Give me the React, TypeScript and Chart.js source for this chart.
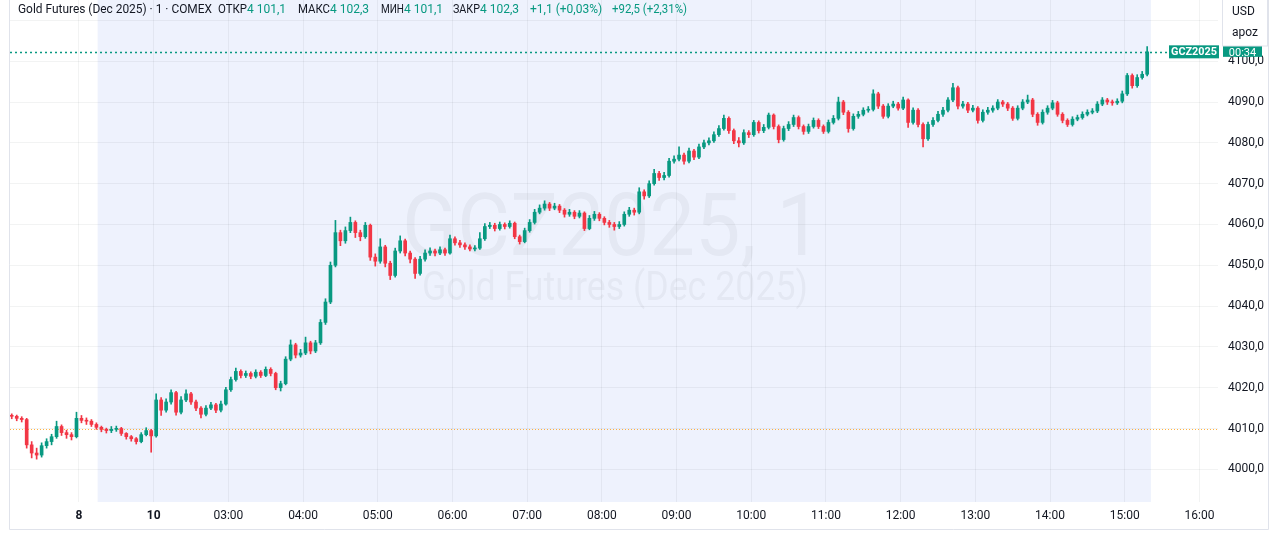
import React, { useEffect, useRef } from 'react';
import { Chart, registerables } from 'chart.js';

Chart.register(...registerables);

// ---- data (1 candle = 4 minutes; x in minutes relative to the "8" tick) ----
const TIME_START = -54;
const TIME_STEP = 4;
const FIRST_OPEN = 4013.2;

const CLOSE = [
  4013.0, 4012.5, 4012.2, 4006.0, 4004.0, 4003.5, 4005.8, 4006.8, 4008.0, 4010.5,
  4009.0, 4008.5, 4008.0, 4012.5, 4012.0, 4011.8, 4011.0, 4010.3, 4009.8, 4009.5,
  4009.8, 4010.0, 4008.8, 4008.0, 4007.5, 4006.8, 4008.5, 4009.5, 4008.2, 4017.0,
  4014.5, 4016.5, 4018.8, 4014.0, 4017.0, 4018.5, 4016.5, 4015.0, 4013.5, 4015.0,
  4015.8, 4014.5, 4016.0, 4019.5, 4022.0, 4024.0, 4023.0, 4023.5, 4022.8, 4023.8,
  4023.0, 4024.5, 4023.5, 4020.0, 4021.0, 4027.0, 4030.5, 4028.0, 4028.5, 4031.0,
  4029.0, 4031.0, 4036.0, 4041.0, 4050.0, 4058.0, 4056.0, 4058.5, 4060.5, 4058.0,
  4057.0, 4059.8, 4052.0, 4051.0, 4054.5, 4050.5, 4047.5, 4053.5, 4056.0, 4053.0,
  4051.5, 4048.0, 4051.5, 4053.0, 4053.5, 4053.0, 4053.8, 4053.0, 4056.5, 4055.5,
  4055.0, 4054.5, 4054.0, 4054.2, 4056.5, 4059.5, 4059.8, 4059.0, 4060.0, 4059.5,
  4060.3, 4057.0, 4055.8, 4058.5, 4060.5, 4063.0, 4064.0, 4065.0, 4064.0, 4064.5,
  4063.5, 4062.5, 4063.0, 4062.0, 4062.8, 4059.0, 4061.5, 4062.5, 4061.5, 4060.5,
  4060.0, 4059.5, 4060.0, 4062.5, 4063.5, 4063.0, 4068.0, 4067.0, 4070.0, 4072.5,
  4071.5, 4072.0, 4075.5, 4076.0, 4077.0, 4075.5, 4078.0, 4076.5, 4079.0, 4080.0,
  4080.5, 4082.0, 4083.5, 4086.0, 4083.0, 4080.5, 4080.0, 4082.5, 4082.0, 4085.0,
  4083.0, 4083.8, 4086.8, 4084.0, 4080.8, 4083.5, 4084.5, 4086.2, 4084.0, 4082.8,
  4084.0, 4085.5, 4084.0, 4082.8, 4085.0, 4086.0, 4090.0, 4087.5, 4083.5, 4086.5,
  4087.0, 4088.0, 4088.2, 4092.0, 4089.0, 4086.5, 4089.0, 4089.5, 4088.5, 4090.5,
  4085.0, 4088.0, 4084.5, 4081.0, 4084.5, 4085.5, 4087.0, 4088.0, 4090.5, 4093.5,
  4089.0, 4089.5, 4088.0, 4088.5, 4085.5, 4087.5, 4088.0, 4088.5, 4090.0, 4089.5,
  4088.5, 4086.0, 4088.5, 4090.0, 4090.5, 4087.0, 4085.0, 4087.5, 4088.5, 4089.8,
  4087.0, 4085.5, 4084.5, 4085.8, 4086.2, 4087.0, 4087.5, 4087.8, 4089.5, 4090.5,
  4090.0, 4089.8, 4090.2, 4092.0, 4096.5, 4094.0, 4096.0, 4096.8, 4102.3,
];

const HIGH = [
  4013.6, 4013.3, 4012.9, 4012.5, 4006.8, 4005.2, 4006.5, 4007.5, 4008.6, 4011.8,
  4010.9, 4009.6, 4009.0, 4014.0, 4013.2, 4012.6, 4012.2, 4011.4, 4010.6, 4010.1,
  4010.5, 4010.6, 4010.3, 4009.0, 4008.3, 4007.8, 4009.0, 4010.2, 4009.8, 4018.5,
  4017.6, 4017.3, 4019.5, 4019.1, 4017.8, 4019.5, 4018.9, 4017.0, 4015.4, 4015.6,
  4016.4, 4016.2, 4016.7, 4020.1, 4022.6, 4024.8, 4024.4, 4024.1, 4023.9, 4024.4,
  4024.2, 4025.1, 4024.9, 4023.8, 4021.6, 4027.6, 4031.7, 4030.9, 4029.4, 4032.4,
  4031.4, 4031.6, 4036.7, 4041.8, 4050.8, 4061.0, 4058.6, 4059.4, 4061.8, 4060.9,
  4058.6, 4060.5, 4060.1, 4052.8, 4056.5, 4054.9, 4051.0, 4054.2, 4057.2, 4056.4,
  4053.5, 4051.9, 4052.2, 4053.8, 4054.3, 4054.0, 4054.5, 4054.2, 4057.4, 4057.0,
  4056.1, 4055.5, 4055.0, 4054.8, 4058.0, 4060.2, 4060.5, 4060.3, 4060.6, 4060.4,
  4060.9, 4060.6, 4057.4, 4059.1, 4061.2, 4063.7, 4064.8, 4065.8, 4065.4, 4065.2,
  4064.9, 4063.9, 4063.7, 4063.4, 4063.4, 4063.1, 4062.2, 4063.2, 4062.9, 4061.9,
  4061.0, 4060.5, 4060.7, 4063.1, 4064.2, 4064.0, 4069.0, 4068.5, 4070.7, 4073.5,
  4073.0, 4072.8, 4076.2, 4076.8, 4079.0, 4077.5, 4078.7, 4078.4, 4079.7, 4080.7,
  4081.2, 4082.7, 4084.2, 4086.8, 4086.4, 4083.4, 4081.3, 4083.2, 4083.0, 4085.5,
  4085.4, 4084.5, 4087.3, 4087.1, 4084.4, 4084.1, 4085.2, 4086.8, 4086.6, 4084.4,
  4084.6, 4086.1, 4085.9, 4084.4, 4085.6, 4086.7, 4091.2, 4090.4, 4087.9, 4087.1,
  4087.7, 4088.6, 4088.9, 4093.0, 4092.4, 4089.4, 4089.6, 4090.2, 4089.9, 4091.2,
  4090.8, 4088.6, 4088.4, 4084.9, 4085.1, 4086.2, 4087.7, 4088.7, 4091.1, 4094.6,
  4093.9, 4090.2, 4089.9, 4089.2, 4088.9, 4088.1, 4088.7, 4089.1, 4090.6, 4090.4,
  4089.9, 4088.9, 4089.1, 4090.6, 4091.7, 4090.9, 4087.4, 4088.1, 4089.1, 4090.4,
  4090.2, 4087.4, 4085.9, 4086.4, 4086.8, 4087.6, 4088.1, 4088.4, 4090.1, 4091.1,
  4090.9, 4090.5, 4090.8, 4092.7, 4097.0, 4096.9, 4096.7, 4097.5, 4103.6,
];

const LOW = [
  4012.4, 4011.9, 4011.6, 4005.2, 4002.8, 4002.5, 4003.0, 4005.2, 4006.0, 4007.6,
  4008.3, 4007.6, 4007.2, 4007.7, 4011.4, 4011.0, 4010.5, 4009.8, 4009.2, 4008.9,
  4009.0, 4009.3, 4008.3, 4007.4, 4006.9, 4006.2, 4006.5, 4008.2, 4004.2, 4007.9,
  4013.2, 4014.0, 4016.0, 4013.3, 4013.6, 4016.6, 4015.9, 4014.4, 4012.6, 4013.1,
  4014.6, 4013.9, 4014.1, 4015.7, 4019.1, 4021.6, 4022.4, 4022.5, 4022.2, 4022.4,
  4022.5, 4022.7, 4022.9, 4019.5, 4019.2, 4020.7, 4026.6, 4027.3, 4027.5, 4028.1,
  4028.3, 4028.6, 4030.6, 4035.5, 4040.6, 4049.6, 4054.8, 4055.4, 4058.0, 4056.8,
  4056.0, 4056.6, 4051.2, 4049.8, 4050.5, 4049.6, 4046.5, 4047.1, 4053.0, 4052.3,
  4050.6, 4046.8, 4047.6, 4051.0, 4052.4, 4052.3, 4052.6, 4052.4, 4052.7, 4054.9,
  4054.4, 4053.9, 4053.5, 4053.5, 4053.9, 4056.1, 4059.0, 4058.4, 4058.6, 4058.9,
  4059.1, 4056.5, 4055.2, 4055.5, 4058.1, 4060.1, 4062.6, 4063.5, 4063.4, 4063.6,
  4062.9, 4061.8, 4062.0, 4061.4, 4061.6, 4058.5, 4058.7, 4061.0, 4060.9, 4059.9,
  4059.3, 4058.6, 4059.0, 4059.6, 4062.0, 4062.3, 4062.6, 4066.2, 4066.6, 4069.6,
  4070.8, 4070.9, 4071.6, 4075.0, 4075.6, 4074.8, 4075.1, 4075.9, 4076.1, 4078.6,
  4079.5, 4080.1, 4081.6, 4083.1, 4082.3, 4079.8, 4079.0, 4079.6, 4081.3, 4081.6,
  4082.4, 4082.5, 4083.4, 4083.4, 4080.0, 4080.4, 4083.0, 4084.0, 4083.4, 4082.1,
  4082.3, 4083.6, 4083.5, 4082.3, 4082.4, 4084.6, 4085.6, 4086.9, 4082.6, 4083.1,
  4086.0, 4086.6, 4087.5, 4087.8, 4088.4, 4086.0, 4086.1, 4088.6, 4088.0, 4088.1,
  4083.8, 4084.6, 4083.9, 4079.0, 4080.6, 4084.0, 4085.1, 4086.5, 4087.6, 4090.1,
  4088.3, 4088.5, 4087.4, 4087.6, 4084.8, 4085.1, 4087.0, 4087.5, 4088.1, 4088.9,
  4087.9, 4085.5, 4085.6, 4088.1, 4089.6, 4086.4, 4084.3, 4084.6, 4087.0, 4088.1,
  4086.5, 4084.9, 4084.0, 4084.1, 4085.4, 4085.8, 4086.6, 4087.1, 4087.4, 4089.1,
  4089.4, 4089.2, 4089.4, 4089.8, 4091.6, 4093.4, 4093.6, 4095.6, 4096.4,
];

const TICK_POS = [0, 60, 120, 180, 240, 300, 360, 420, 480, 540, 600, 660, 720, 780, 840, 900];
const TICK_LABELS = ['8', '10', '03:00', '04:00', '05:00', '06:00', '07:00', '08:00', '09:00',
  '10:00', '11:00', '12:00', '13:00', '14:00', '15:00', '16:00'];
const PRICE_TICKS = [4000, 4010, 4020, 4030, 4040, 4050, 4060, 4070, 4080, 4090, 4100, 4110];

const LAST_PRICE = 4102.3;
const PREV_CLOSE = 4009.8;
const SESSION_START = 15;
const SESSION_END = 861;
const X_MIN = -55.4;
const X_MAX = 914.9;
const Y_MIN = 3992;
const Y_MAX = 4115;

const LEGEND = [
  { t: 'Gold Futures (Dec 2025) · 1 · COMEX', x: 18, w: 194, green: false },
  { t: 'ОТКР', x: 218, w: 29, green: false },
  { t: '4 101,1', x: 247, w: 43, green: true },
  { t: 'МАКС', x: 298, w: 32, green: false },
  { t: '4 102,3', x: 330, w: 42, green: true },
  { t: 'МИН', x: 381, w: 23, green: false },
  { t: '4 101,1', x: 404, w: 42, green: true },
  { t: 'ЗАКР', x: 453, w: 27, green: false },
  { t: '4 102,3', x: 480, w: 42, green: true },
  { t: '+1,1 (+0,03%)', x: 530, w: 75, green: true },
  { t: '+92,5 (+2,31%)', x: 612, w: 75, green: true },
];

const FONT = 'Roboto, "Noto Sans", "DejaVu Sans", sans-serif';
const UP = '#089981';
const DOWN = '#F23645';
const TEXT = '#131722';
const GRID = 'rgba(42,46,57,0.06)';

export default function App() {
  const ref = useRef<HTMLCanvasElement>(null);

  useEffect(() => {
    const canvas = ref.current;
    if (!canvas) return;
    const times = CLOSE.map((_, i) => TIME_START + i * TIME_STEP);
    const opens = CLOSE.map((_, i) => (i === 0 ? FIRST_OPEN : CLOSE[i - 1]));
    const colors = CLOSE.map((c, i) => (c >= opens[i] ? UP : DOWN));

    const overlay = {
      id: 'tvOverlay',
      beforeDraw(chart: any) {
        const { ctx, chartArea } = chart;
        const xs = chart.scales.x;
        ctx.save();
        ctx.fillStyle = '#ffffff';
        ctx.fillRect(0, 0, chart.width, chart.height);
        const x0 = xs.getPixelForValue(SESSION_START);
        const x1 = xs.getPixelForValue(SESSION_END);
        ctx.fillStyle = 'rgb(238,242,253)';
        ctx.fillRect(x0, chartArea.top, x1 - x0, chartArea.bottom - chartArea.top);
        ctx.restore();
      },
      beforeDatasetsDraw(chart: any) {
        const { ctx, chartArea } = chart;
        const ys = chart.scales.y;
        ctx.save();
        // watermark
        ctx.fillStyle = 'rgba(19,23,34,0.045)';
        ctx.textAlign = 'center';
        ctx.textBaseline = 'alphabetic';
        ctx.font = `88px ${FONT}`;
        ctx.fillText('GCZ2025, 1', 612, 255, 420);
        ctx.font = `40px ${FONT}`;
        ctx.fillText('Gold Futures (Dec 2025)', 615, 300, 386);
        // previous close line
        const yp = Math.round(ys.getPixelForValue(PREV_CLOSE)) + 0.5;
        ctx.strokeStyle = 'rgba(255,152,0,0.75)';
        ctx.lineWidth = 1;
        ctx.setLineDash([1, 2]);
        ctx.beginPath();
        ctx.moveTo(chartArea.left, yp);
        ctx.lineTo(chartArea.right, yp);
        ctx.stroke();
        ctx.restore();
      },
      afterDatasetsDraw(chart: any) {
        const { ctx, chartArea } = chart;
        const ys = chart.scales.y;
        ctx.save();
        const yl = Math.round(ys.getPixelForValue(LAST_PRICE)) + 0.5;
        ctx.strokeStyle = UP;
        ctx.lineWidth = 1.5;
        ctx.setLineDash([2, 3]);
        ctx.beginPath();
        ctx.moveTo(chartArea.left, yl);
        ctx.lineTo(chartArea.right, yl);
        ctx.stroke();
        ctx.restore();
      },
      afterDraw(chart: any) {
        const { ctx, chartArea } = chart;
        const ys = chart.scales.y;
        ctx.save();
        // legend line
        ctx.textBaseline = 'middle';
        ctx.textAlign = 'left';
        ctx.font = `12px ${FONT}`;
        LEGEND.forEach((s) => {
          ctx.fillStyle = s.green ? UP : TEXT;
          ctx.fillText(s.t, s.x, 10, s.w);
        });
        // symbol label and price label
        const yl = ys.getPixelForValue(LAST_PRICE);
        ctx.fillStyle = UP;
        ctx.fillRect(1169, yl - 6.5, 50, 13);
        ctx.fillStyle = '#ffffff';
        ctx.textAlign = 'center';
        ctx.font = `bold 11px ${FONT}`;
        ctx.fillText('GCZ2025', 1194, yl + 0.5, 46);
        ctx.fillStyle = UP;
        ctx.fillRect(chartArea.right + 5, yl - 20, 39, 25);
        ctx.fillStyle = '#ffffff';
        ctx.font = `11px ${FONT}`;
        ctx.fillText('4 102,3', chartArea.right + 24.5, yl - 12);
        ctx.fillText('00:34', chartArea.right + 24.5, yl + 1);
        // currency / unit box
        ctx.fillStyle = '#ffffff';
        ctx.fillRect(1222, 0, 46, 46);
        ctx.strokeStyle = '#e0e3eb';
        ctx.lineWidth = 1;
        ctx.strokeRect(1222.5, -1, 45, 47);
        ctx.fillStyle = TEXT;
        ctx.textAlign = 'left';
        ctx.font = `12px ${FONT}`;
        ctx.fillText('USD', 1232, 12);
        ctx.fillText('apoz', 1232, 33);
        // widget frame
        ctx.strokeStyle = '#e0e3eb';
        ctx.beginPath();
        ctx.moveTo(9.5, 0);
        ctx.lineTo(9.5, 529.5);
        ctx.lineTo(1268.5, 529.5);
        ctx.lineTo(1268.5, 0);
        ctx.stroke();
        ctx.restore();
      },
    };

    const chart = new Chart(canvas, {
      type: 'bar',
      data: {
        datasets: [
          {
            label: 'body',
            data: times.map((t, i) => ({ x: t, y: [opens[i], CLOSE[i]] })) as any,
            backgroundColor: colors,
            barThickness: 3,
            minBarLength: 1,
            grouped: false,
            borderWidth: 0,
          },
          {
            label: 'wick',
            data: times.map((t, i) => ({ x: t, y: [LOW[i], HIGH[i]] })) as any,
            backgroundColor: colors,
            barThickness: 1,
            grouped: false,
            borderWidth: 0,
          },
        ],
      },
      options: {
        responsive: false,
        devicePixelRatio: 1,
        animation: false,
        events: [],
        layout: { padding: { left: 10, top: 0, right: 0, bottom: 0 } },
        plugins: { legend: { display: false }, tooltip: { enabled: false } },
        scales: {
          x: {
            type: 'linear',
            min: X_MIN,
            max: X_MAX,
            offset: false,
            grid: { color: GRID, drawTicks: false, offset: false },
            border: { display: false },
            ticks: {
              autoSkip: false,
              maxRotation: 0,
              padding: 7,
              color: TEXT,
              font: (c: any) => ({ family: FONT, size: 12, weight: c.index < 2 ? 'bold' : 'normal' }),
              callback: (v: any) => {
                const k = TICK_POS.indexOf(Number(v));
                return k >= 0 ? TICK_LABELS[k] : '';
              },
            },
            afterBuildTicks: (s: any) => {
              s.ticks = TICK_POS.map((v) => ({ value: v }));
            },
            afterFit: (s: any) => {
              s.height = 34;
              s.paddingLeft = 0;
              s.paddingRight = 0;
            },
          } as any,
          y: {
            type: 'linear',
            position: 'right',
            min: Y_MIN,
            max: Y_MAX,
            beginAtZero: false,
            grid: { color: GRID, drawTicks: false },
            border: { display: false },
            ticks: {
              padding: 10,
              color: TEXT,
              font: { family: FONT, size: 12 },
              callback: (v: any) => Number(v).toFixed(1).replace('.', ','),
            },
            afterBuildTicks: (s: any) => {
              s.ticks = PRICE_TICKS.map((v) => ({ value: v }));
            },
            afterFit: (s: any) => {
              s.width = 62;
              s.paddingTop = 0;
              s.paddingBottom = 0;
            },
          } as any,
        },
      },
      plugins: [overlay as any],
    });
    return () => chart.destroy();
  }, []);

  return (
    <div style={{ position: 'absolute', left: 0, top: 0, width: 1280, height: 536, background: '#fff' }}>
      <canvas ref={ref} width={1280} height={536} style={{ display: 'block', width: 1280, height: 536 }} />
    </div>
  );
}
